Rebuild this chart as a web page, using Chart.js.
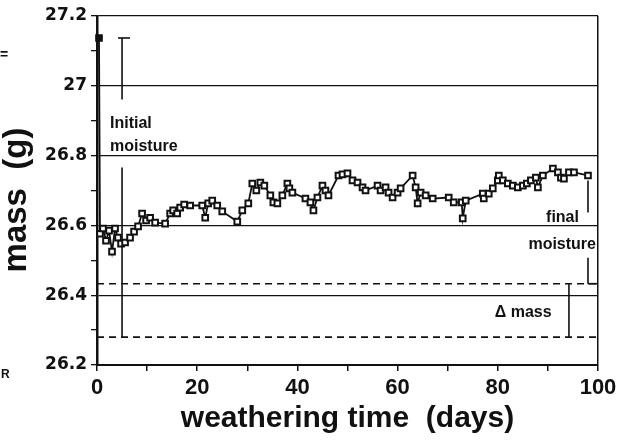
<!DOCTYPE html>
<html>
<head>
<meta charset="utf-8">
<script src="https://cdn.jsdelivr.net/npm/chart.js@4/dist/chart.umd.min.js"></script>
<style>
  html, body { margin: 0; padding: 0; background: #fff; }
  #wrap { width: 625px; height: 441px; }
</style>
</head>
<body>
<div id="wrap"><canvas id="massChart" width="625" height="441"></canvas></div>
<script>
// weathering time (days) and sample mass (g)
const days = [0.4, 0.6, 1.2, 1.8, 2.4, 3.0, 3.6, 4.2, 4.8, 5.6, 6.6, 7.4, 8.2, 9.0, 9.8, 10.6, 11.6, 13.6,
  14.6, 15.2, 16.0, 16.6, 17.4, 18.6, 21.0, 21.6, 22.2, 23.0, 24.0, 25.0, 28.0, 29.0, 30.2, 31.0, 31.8,
  32.6, 33.4, 34.6, 35.2, 36.0, 37.0, 38.0, 38.4, 39.0, 41.6, 42.6, 43.2, 44.0, 45.0, 45.6, 46.2, 48.2,
  49.0, 50.0, 51.0, 52.0, 53.0, 53.6, 56.0, 56.6, 57.6, 58.2, 59.0, 60.0, 60.6, 63.0, 63.6, 64.0, 64.6,
  65.6, 67.0, 70.2, 71.2, 72.8, 73.0, 73.6, 77.0, 77.2, 78.2, 79.0, 80.0, 80.2, 81.0, 82.0, 83.0, 84.0,
  85.0, 85.8, 86.6, 87.6, 88.0, 89.0, 91.0, 92.0, 92.6, 93.2, 94.2, 95.2, 98.0];
const mass = [27.137, 26.576, 26.591, 26.556, 26.585, 26.525, 26.591, 26.565, 26.548, 26.551, 26.565,
  26.582, 26.597, 26.634, 26.614, 26.622, 26.608, 26.605, 26.634, 26.643, 26.634, 26.651, 26.660, 26.657,
  26.657, 26.622, 26.663, 26.671, 26.657, 26.640, 26.611, 26.643, 26.663, 26.720, 26.700, 26.723, 26.714,
  26.686, 26.666, 26.663, 26.686, 26.720, 26.706, 26.694, 26.677, 26.666, 26.643, 26.680, 26.714, 26.700,
  26.686, 26.743, 26.746, 26.749, 26.729, 26.723, 26.709, 26.700, 26.714, 26.700, 26.709, 26.694, 26.680,
  26.694, 26.706, 26.743, 26.709, 26.663, 26.694, 26.686, 26.677, 26.680, 26.666, 26.666, 26.620, 26.671,
  26.691, 26.677, 26.691, 26.706, 26.729, 26.743, 26.729, 26.720, 26.714, 26.709, 26.714, 26.720, 26.729,
  26.737, 26.709, 26.743, 26.763, 26.752, 26.737, 26.734, 26.752, 26.752, 26.743];

// reference levels and bar positions (days / grams)
const dryLevels = [26.433, 26.28];
const initialBarDay = 5;
const initialUpper = [27.137, 26.961];
const initialLower = [26.766, 26.28];
const initialCap = [4.2, 6.6];
const finalBarDay = 98;
const finalUpper = [26.729, 26.637];
const finalLower = [26.507, 26.433];
const deltaBarDay = 94.2;

const xTicks = [0, 20, 40, 60, 80, 100];

const seg = (x0, y0, x1, y1) => [{ x: x0, y: y0 }, { x: x1, y: y1 }];

function lineSet(data, dash) {
    return {
        data,
        showLine: true,
        borderColor: '#111',
        borderWidth: 1.6,
        borderDash: dash || [],
        pointRadius: 0,
        fill: false
    };
}

const notes = [
    { text: 'Initial', x: 2.6, y: 26.891, align: 'left' },
    { text: 'moisture', x: 2.6, y: 26.825, align: 'left' },
    { text: 'final', x: 96.2, y: 26.621, align: 'right' },
    { text: 'moisture', x: 99.6, y: 26.544, align: 'right' },
    { text: '\u0394 mass', x: 79.4, y: 26.349, align: 'left' }
];

const notesPlugin = {
    id: 'notes',
    afterDatasetsDraw(chart) {
        const { ctx, scales: { x, y } } = chart;
        ctx.save();
        ctx.fillStyle = '#111';
        ctx.textBaseline = 'middle';
        ctx.font = 'bold 16px "Liberation Sans", Arial, sans-serif';
        notes.forEach(n => {
            ctx.textAlign = n.align;
            ctx.fillText(n.text, x.getPixelForValue(n.x), y.getPixelForValue(n.y));
        });

        // y axis title
        ctx.translate(17, 200);
        ctx.rotate(-Math.PI / 2);
        ctx.textAlign = 'center';
        ctx.font = 'bold 33px "Liberation Sans", Arial, sans-serif';
        ctx.fillText('mass  (g)', 0, 0);
        ctx.restore();

        // stray marks at the left edge of the scan
        ctx.save();
        ctx.fillStyle = '#111';
        ctx.textBaseline = 'middle';
        ctx.font = 'bold 12px "Liberation Sans", Arial, sans-serif';
        ctx.fillText('R', 1, 375);
        ctx.font = 'bold 14px "Liberation Sans", Arial, sans-serif';
        ctx.fillText('=', 0, 55);
        ctx.restore();
    }
};

new Chart(document.getElementById('massChart'), {
    type: 'scatter',
    data: {
        datasets: [
            {
                data: days.map((d, i) => ({ x: d, y: mass[i] })),
                showLine: true,
                clip: false,
                borderColor: '#111',
                borderWidth: 1.8,
                pointStyle: 'rect',
                pointRadius: 4,
                pointBorderWidth: 2,
                pointBorderColor: '#111',
                pointBackgroundColor: ctx => ctx.dataIndex === 0 ? '#111' : '#fff'
            },
            lineSet(seg(0, dryLevels[0], 100, dryLevels[0]), [7, 5]),
            lineSet(seg(0, dryLevels[1], 100, dryLevels[1]), [7, 5]),
            lineSet(seg(initialBarDay, initialUpper[0], initialBarDay, initialUpper[1])),
            lineSet(seg(initialCap[0], initialUpper[0], initialCap[1], initialUpper[0])),
            lineSet(seg(initialBarDay, initialLower[0], initialBarDay, initialLower[1])),
            lineSet(seg(finalBarDay, finalUpper[0], finalBarDay, finalUpper[1])),
            lineSet(seg(finalBarDay, finalLower[0], finalBarDay, finalLower[1])),
            lineSet(seg(finalBarDay, dryLevels[0], 100, dryLevels[0])),
            lineSet(seg(deltaBarDay, dryLevels[0], deltaBarDay, dryLevels[1]))
        ]
    },
    options: {
        responsive: false,
        animation: false,
        events: [],
        layout: { padding: { top: 16, right: 27, left: 0, bottom: 0 } },
        plugins: { legend: { display: false }, tooltip: { enabled: false } },
        scales: {
            x: {
                type: 'linear',
                min: 0,
                max: 100,
                afterFit(scale) { scale.height = 76; },
                ticks: {
                    stepSize: 10,
                    autoSkip: false,
                    maxRotation: 0,
                    padding: 4,
                    color: '#111',
                    font: { family: '"Liberation Sans", Arial, sans-serif', size: 22, weight: 'bold' },
                    callback: v => xTicks.includes(v) ? v : ''
                },
                grid: {
                    color: ctx => ctx.tick && ctx.tick.value === 100 ? '#111' : 'rgba(0,0,0,0)',
                    tickColor: '#111',
                    tickLength: 6,
                    lineWidth: 1.5
                },
                border: { display: true, color: '#111', width: 2 },
                title: {
                    display: true,
                    text: 'weathering time  (days)',
                    color: '#111',
                    font: { family: '"Liberation Sans", Arial, sans-serif', size: 30, weight: 'bold' },
                    padding: { top: 0, bottom: 4 }
                }
            },
            y: {
                min: 26.2,
                max: 27.2,
                afterFit(scale) { scale.width = 97; },
                ticks: {
                    stepSize: 0.1,
                    autoSkip: false,
                    padding: 4,
                    color: '#111',
                    font: { family: '"DejaVu Sans", sans-serif', size: 17, weight: 'bold' },
                    callback: v => Math.round(v * 10) % 2 === 0 ? String(parseFloat(v.toFixed(1))) : ''
                },
                grid: {
                    color: ctx => ctx.tick && Math.round(ctx.tick.value * 10) % 2 === 0 ? '#111' : 'rgba(0,0,0,0)',
                    tickColor: '#111',
                    tickLength: 6,
                    lineWidth: 1.3
                },
                border: { display: true, color: '#111', width: 2.5 }
            }
        }
    },
    plugins: [notesPlugin]
});
</script>
</body>
</html>
